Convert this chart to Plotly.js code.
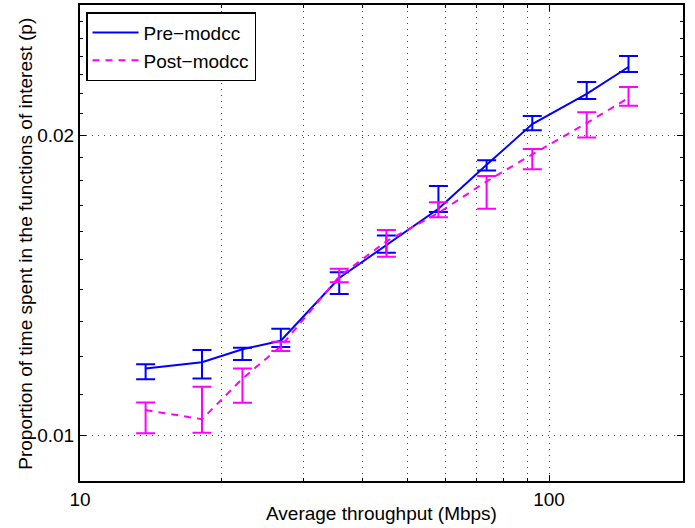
<!DOCTYPE html>
<html>
<head>
<meta charset="utf-8">
<script src="https://cdn.plot.ly/plotly-3.0.1.min.js"></script>
<style>
  html, body { margin: 0; padding: 0; background: #fff; }
  #chart { width: 695px; height: 528px; }
</style>
</head>
<body>
<div id="chart"></div>
<script>
// Average throughput (Mbps)
const throughput = [13.8, 18.2, 22.2, 26.8, 35.7, 45.0, 58.1, 73.6, 92.1, 120.3, 147.7];

// Pre-modcc: central value, upper and lower error-bar ends
const preValue = [0.01167, 0.01184, 0.01220, 0.01244, 0.01438, 0.01550, 0.01687, 0.01867, 0.02051, 0.02199, 0.02340];
const preUpper = [0.01178, 0.01218, 0.01224, 0.01279, 0.01457, 0.01586, 0.01778, 0.01887, 0.02090, 0.02260, 0.02400];
const preLower = [0.01138, 0.01140, 0.01190, 0.01226, 0.01386, 0.01524, 0.01674, 0.01843, 0.02022, 0.02174, 0.02313];

// Post-modcc
const postValue = [0.01060, 0.01038, 0.01140, 0.01228, 0.01443, 0.01565, 0.01671, 0.01797, 0.01913, 0.02056, 0.02179];
const postUpper = [0.01079, 0.01119, 0.01167, 0.01241, 0.01469, 0.01606, 0.01713, 0.01820, 0.01936, 0.02108, 0.02234];
const postLower = [0.01005, 0.01006, 0.01078, 0.01215, 0.01424, 0.01510, 0.01654, 0.01687, 0.01848, 0.01989, 0.02140];

// Tick labels
const xTickVals = [10, 100];
const xTickText = ['10', '100'];
const xMinorVals = [20, 30, 40, 50, 60, 70, 80, 90];
const yTickVals = [0.01, 0.02];
const yTickText = ['0.01', '0.02'];
const yMinorVals = [0.009, 0.011, 0.012, 0.013, 0.014, 0.015, 0.016, 0.017, 0.018, 0.019, 0.021, 0.022, 0.023, 0.024, 0.025, 0.026];

const xTitle = 'Average throughput (Mbps)';
const yTitle = 'Proportion of time spent in the functions of interest (p)';

const sub = (a, b) => a.map((v, i) => v - b[i]);

const FONT = '"Liberation Sans", Arial, Helvetica, sans-serif';
const FS = 19;

const traces = [
  {
    x: throughput, y: preValue, type: 'scatter', mode: 'lines',
    name: 'Pre\u2212modcc',
    line: { color: '#0000FF', width: 2 },
    error_y: { type: 'data', symmetric: false,
      array: sub(preUpper, preValue), arrayminus: sub(preValue, preLower),
      color: '#0000FF', thickness: 2, width: 9.5 }
  },
  {
    x: throughput, y: postValue, type: 'scatter', mode: 'lines',
    name: 'Post\u2212modcc',
    line: { color: '#FF00FF', width: 2, dash: '7px,6px' },
    error_y: { type: 'data', symmetric: false,
      array: sub(postUpper, postValue), arrayminus: sub(postValue, postLower),
      color: '#FF00FF', thickness: 2, width: 9.5 }
  }
];

const layout = {
  width: 695, height: 528,
  margin: { l: 80, r: 12, t: 5, b: 47, pad: 0 },
  paper_bgcolor: '#fff', plot_bgcolor: '#fff',
  font: { family: FONT, size: FS, color: '#000' },
  showlegend: true,
  legend: {
    x: 0.01, y: 0.985, xanchor: 'left', yanchor: 'top',
    bgcolor: '#fff', bordercolor: '#000', borderwidth: 1.5,
    font: { family: FONT, size: FS, color: '#000' },
    itemwidth: 46, tracegroupgap: 0
  },
  xaxis: {
    type: 'log', range: [1, Math.log10(193)],
    tickmode: 'array', tickvals: xTickVals, ticktext: xTickText,
    ticks: 'inside', ticklen: 6, tickwidth: 1, tickcolor: '#000',
    showline: true, linecolor: '#000', linewidth: 2, mirror: 'ticks',
    showgrid: true, gridcolor: '#444', gridwidth: 1, griddash: '1px,5px',
    zeroline: false,
    minor: { tickmode: 'array', tickvals: xMinorVals, ticks: 'inside', ticklen: 3,
      tickcolor: '#000', showgrid: true, gridcolor: '#444', gridwidth: 1, griddash: '1px,5px' },
    tickfont: { family: FONT, size: FS, color: '#000' },
    automargin: false
  },
  yaxis: {
    type: 'log', range: [Math.log10(0.009), Math.log10(0.027)],
    tickmode: 'array', tickvals: yTickVals, ticktext: yTickText,
    ticks: 'inside', ticklen: 6, tickwidth: 1, tickcolor: '#000',
    showline: true, linecolor: '#000', linewidth: 2, mirror: 'ticks',
    showgrid: true, gridcolor: '#444', gridwidth: 1, griddash: '1px,5px',
    zeroline: false,
    minor: { tickmode: 'array', tickvals: yMinorVals, ticks: 'inside', ticklen: 3,
      tickcolor: '#000', showgrid: false },
    tickfont: { family: FONT, size: FS, color: '#000' },
    automargin: false
  },
  annotations: [
    { text: xTitle, xref: 'paper', yref: 'paper', x: 0.5, y: -0.068,
      xanchor: 'center', yanchor: 'middle', showarrow: false,
      font: { family: FONT, size: FS, color: '#000' } },
    { text: yTitle, xref: 'paper', yref: 'paper', x: -0.091, y: 0.4987,
      xanchor: 'center', yanchor: 'middle', showarrow: false, textangle: -90,
      font: { family: FONT, size: FS, color: '#000' } }
  ]
};

Plotly.newPlot('chart', traces, layout, { displayModeBar: false, staticPlot: true });
</script>
</body>
</html>
